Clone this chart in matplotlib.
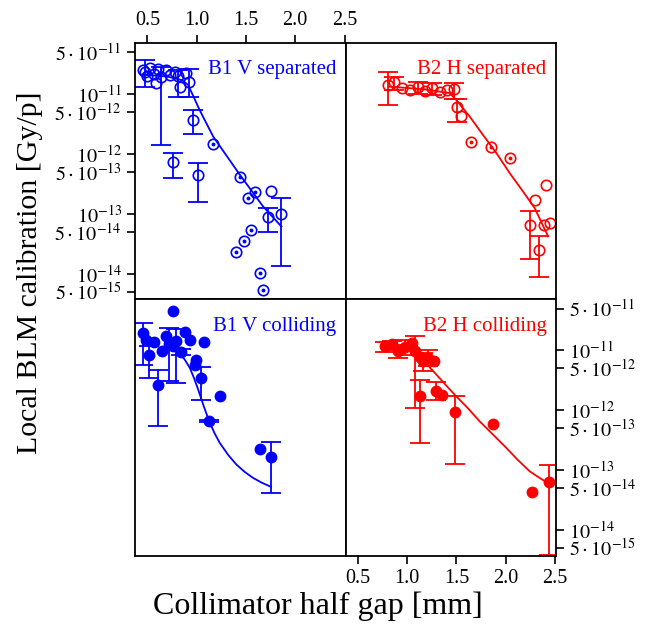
"""
Local BLM calibration vs collimator half gap, four lattice-style panels
(B1 V / B2 H, separated / colliding beams).
"""

import numpy as np
import matplotlib
matplotlib.use("Agg")
import matplotlib.pyplot as plt
from matplotlib.ticker import FixedLocator, NullLocator

plt.rcParams['font.family'] = ['Liberation Serif', 'DejaVu Serif']
plt.rcParams['mathtext.fontset'] = 'stix'

nan = np.nan

# ---- B1 V separated (open circles) ----
b1s_x = [0.476, 0.456, 0.496, 0.527, 0.567, 0.587, 0.608, 0.640, 0.689, 0.729, 0.780,
         0.810, 0.830, 0.891, 0.925, 0.965, 0.757, 1.016, 1.168, 1.438, 1.522, 1.597,
         1.759, 1.724, 1.860, 1.397, 1.478, 1.556, 1.640, 1.674]
b1s_y = [2.3e-11, 2.5e-11, 2.0e-11, 2.7e-11, 2.15e-11, 1.53e-11, 2.6e-11, 1.92e-11, 2.5e-11,
         2.07e-11, 2.33e-11, 2.0e-11, 1.32e-11, 2.24e-11, 1.57e-11, 3.65e-12, 7.2e-13, 4.35e-13,
         1.48e-12, 4.1e-13, 1.85e-13, 2.33e-13, 2.35e-13, 8.8e-14, 9.7e-14, 2.27e-14, 3.5e-14,
         5.35e-14, 1.03e-14, 5.4e-15]
b1s_lo = [1.3e-11, nan, nan, nan, nan, nan, nan, 1.4e-12, nan, nan, nan, 9.0e-12, nan, nan,
          9.0e-12, 2.15e-12, 3.9e-13, 1.58e-13, nan, nan, nan, nan, nan, 4.95e-14, 1.36e-14,
          nan, nan, nan, nan, nan]
b1s_hi = [3.7e-11, nan, nan, nan, nan, nan, nan, 2.8e-11, nan, nan, nan, 2.5e-11, nan, nan,
          2.57e-11, 5.3e-12, 1.05e-12, 7.0e-13, nan, nan, nan, nan, nan, 1.25e-13, 1.8e-13,
          nan, nan, nan, nan, nan]
b1s_dot = [0, 0, 0, 0, 0, 0, 0, 0, 0, 0, 0, 0, 0, 0, 0, 0, 0, 0, 1, 1, 1, 1, 0, 0, 0, 1, 1, 1, 1, 1]
b1s_fit_x = [0.45, 0.70, 0.85, 0.914, 1.033, 1.168, 1.438, 1.674, 1.860]
b1s_fit_y = [2.1e-11, 1.95e-11, 1.7e-11, 1.41e-11, 5.27e-12, 1.94e-12, 4.47e-13, 1.32e-13, 6.1e-14]

# ---- B2 H separated (open circles) ----
b2s_x = [0.804, 0.870, 0.944, 1.025, 1.106, 1.177, 1.248, 1.329, 1.400, 1.474, 1.505, 1.550,
         1.651, 1.847, 2.047, 2.294, 2.412, 2.250, 2.392, 2.446, 2.337]
b2s_y = [1.41e-11, 1.55e-11, 1.26e-11, 1.17e-11, 1.31e-11, 1.12e-11, 1.26e-11, 1.08e-11,
         1.17e-11, 1.2e-11, 6.1e-12, 4.3e-12, 1.6e-12, 1.29e-12, 8.5e-13, 1.71e-13, 2.96e-13,
         6.5e-14, 6.5e-14, 7.0e-14, 2.5e-14]
b2s_lo = [6.5e-12, 1.15e-11, nan, nan, 1.0e-11, nan, 9.5e-12, nan, nan, 8.15e-12, 3.45e-12,
          nan, nan, nan, nan, nan, nan, 1.78e-14, nan, nan, 8.8e-15]
b2s_hi = [2.35e-11, 1.9e-11, nan, nan, 1.6e-11, nan, 1.5e-11, nan, nan, 1.54e-11, 8.15e-12,
          nan, nan, nan, nan, nan, nan, 1.09e-13, nan, nan, 4.2e-14]
b2s_dot = [0, 0, 0, 0, 0, 0, 0, 0, 0, 0, 0, 0, 1, 1, 1, 0, 0, 0, 0, 0, 0]
b2s_fit_x = [0.822, 1.16, 1.431, 1.499, 1.634, 1.769, 1.905, 2.04, 2.175, 2.294, 2.429]
b2s_fit_y = [1.32e-11, 1.2e-11, 1.03e-11, 7.9e-12, 4.2e-12, 2.07e-12, 1.03e-12, 4.77e-13,
             2.35e-13, 1.24e-13, 4.2e-14]

# ---- B1 V colliding (filled circles) ----
b1c_x = [0.763, 0.456, 0.489, 0.564, 0.517, 0.648, 0.719, 0.793, 0.878, 0.929, 1.070, 0.844,
         0.995, 0.979, 1.040, 0.608, 0.692, 0.760, 1.242, 1.124, 1.640, 1.755]
b1c_y = [4.6e-11, 1.94e-11, 1.5e-11, 1.36e-11, 8.5e-12, 9.9e-12, 1.27e-11, 1.41e-11, 2.07e-11,
         1.5e-11, 1.37e-11, 9.4e-12, 7.0e-12, 5.8e-12, 3.4e-12, 2.6e-12, 1.71e-11, 1.17e-11,
         1.71e-12, 6.6e-13, 2.3e-13, 1.67e-13]
b1c_lo = [nan, 5.8e-12, nan, nan, 3.45e-12, nan, 3.05e-12, 2.85e-12, nan, nan, nan, 8.4e-12,
          nan, nan, 1.5e-12, 5.56e-13, nan, nan, nan, 6.4e-13, nan, 4.1e-14]
b1c_hi = [nan, 2.85e-11, nan, nan, 1.2e-11, nan, 2.35e-11, 2.3e-11, nan, nan, nan, 1.05e-11,
          nan, nan, 5.3e-12, 4.77e-12, nan, nan, nan, 6.8e-13, nan, 2.93e-13]
b1c_fit_x = [0.83, 0.88, 0.932, 0.975, 1.016, 1.07, 1.124, 1.18, 1.235, 1.32, 1.404, 1.49,
             1.572, 1.66, 1.755]
b1c_fit_y = [9.0e-12, 7.0e-12, 5.07e-12, 3.4e-12, 2.21e-12, 1.2e-12, 6.8e-13, 4.2e-13,
             2.85e-13, 1.8e-13, 1.24e-13, 9.3e-14, 7.45e-14, 6.2e-14, 5.27e-14]

# ---- B2 H colliding (filled circles) ----
b2c_x = [0.771, 0.842, 0.903, 0.974, 1.045, 1.076, 1.126, 1.160, 1.211, 1.268, 1.126, 1.296,
         1.357, 1.485, 1.870, 2.270, 2.436]
b2c_y = [1.17e-11, 1.26e-11, 9.6e-12, 1.12e-11, 1.31e-11, 9.6e-12, 7.9e-12, 6.56e-12, 7.45e-12,
         6.7e-12, 1.76e-12, 2.13e-12, 1.78e-12, 9.3e-13, 5.85e-13, 4.35e-14, 6.3e-14]
b2c_lo = [9.5e-12, 1.0e-11, 7.5e-12, 8.5e-12, nan, 1.09e-12, nan, 4.5e-12, 5.5e-12, nan,
          2.85e-13, 1.47e-12, nan, 1.28e-13, nan, nan, 3.9e-15]
b2c_hi = [1.4e-11, 1.45e-11, 1.25e-11, 1.5e-11, nan, 1.71e-11, nan, 9.0e-12, 1.0e-11, nan,
          3.25e-12, 2.93e-12, nan, 1.76e-12, nan, nan, 1.21e-13]
b2c_fit_x = [1.177, 1.25, 1.329, 1.41, 1.499, 1.62, 1.735, 1.87, 2.006, 2.12, 2.243, 2.34, 2.429]
b2c_fit_y = [6.56e-12, 4.8e-12, 3.45e-12, 2.45e-12, 1.71e-12, 1.07e-12, 6.56e-13, 3.95e-13,
             2.36e-13, 1.5e-13, 9.6e-14, 7.5e-14, 6.1e-14]

y_ticks = [5e-11, 1e-11, 5e-12, 1e-12, 5e-13, 1e-13, 5e-14, 1e-14, 5e-15]
y_ticklabels = [r'$5\cdot10^{-11}$', r'$10^{-11}$', r'$5\cdot10^{-12}$', r'$10^{-12}$',
                r'$5\cdot10^{-13}$', r'$10^{-13}$', r'$5\cdot10^{-14}$', r'$10^{-14}$',
                r'$5\cdot10^{-15}$']
x_ticks = [0.5, 1.0, 1.5, 2.0, 2.5]
x_ticklabels = ['0.5', '1.0', '1.5', '2.0', '2.5']


def draw_panel(ax, x, y, lo, hi, fit_x, fit_y, color, filled, label, dot=None):
    x = np.array(x)
    y = np.array(y)
    lo = np.array(lo)
    hi = np.array(hi)
    has_err = ~np.isnan(lo)
    # error bars first, markers on top
    ax.errorbar(x[has_err], y[has_err],
                yerr=[y[has_err] - lo[has_err], hi[has_err] - y[has_err]],
                fmt='none', ecolor=color, elinewidth=1.3, capsize=7, capthick=1.3)
    ax.plot(fit_x, fit_y, color=color, lw=1.3)
    if filled:
        ax.plot(x, y, 'o', color=color, ms=7.5, mec=color)
    else:
        ax.plot(x, y, 'o', mfc='none', mec=color, ms=7.5, mew=1.2)
        if dot is not None:
            d = np.array(dot, dtype=bool)
            ax.plot(x[d], y[d], 'o', color=color, ms=1.8)
    ax.text(0.955, 0.895, label, transform=ax.transAxes, ha='right', va='center',
            color=color, fontsize=15)


fig, axes = plt.subplots(2, 2, figsize=(6.5, 6.31), dpi=100, sharex=True, sharey=True)
fig.subplots_adjust(left=0.2077, right=0.8554, top=0.932, bottom=0.1189, wspace=0, hspace=0)
ax_tl, ax_tr = axes[0]
ax_bl, ax_br = axes[1]

draw_panel(ax_tl, b1s_x, b1s_y, b1s_lo, b1s_hi, b1s_fit_x, b1s_fit_y, 'blue', False,
           'B1 V separated', b1s_dot)
draw_panel(ax_tr, b2s_x, b2s_y, b2s_lo, b2s_hi, b2s_fit_x, b2s_fit_y, 'red', False,
           'B2 H separated', b2s_dot)
draw_panel(ax_bl, b1c_x, b1c_y, b1c_lo, b1c_hi, b1c_fit_x, b1c_fit_y, 'blue', True,
           'B1 V colliding')
draw_panel(ax_br, b2c_x, b2c_y, b2c_lo, b2c_hi, b2c_fit_x, b2c_fit_y, 'red', True,
           'B2 H colliding')

for ax in axes.flat:
    ax.set_yscale('log')
    ax.set_xlim(0.375, 2.51)
    ax.set_ylim(3.7e-15, 7.1e-11)
    ax.yaxis.set_minor_locator(NullLocator())
    for s in ax.spines.values():
        s.set_linewidth(1.3)
    ax.tick_params(which='both', direction='out', length=6, width=1.2, labelsize=14.5,
                   top=False, bottom=False, left=False, right=False,
                   labeltop=False, labelbottom=False, labelleft=False, labelright=False)

ax_tl.yaxis.set_major_locator(FixedLocator(y_ticks))
ax_tl.set_yticklabels(y_ticklabels)
ax_tl.set_xticks(x_ticks)
ax_tl.set_xticklabels(x_ticklabels)
ax_tl.tick_params(left=True, labelleft=True, top=True, labeltop=True)
ax_br.tick_params(right=True, labelright=True, bottom=True, labelbottom=True)

fig.text(0.489, 0.04, 'Collimator half gap [mm]', ha='center', va='center', fontsize=23)
fig.text(0.046, 0.567, 'Local BLM calibration [Gy/p]', ha='center', va='center',
         rotation=90, fontsize=21.5)

fig.savefig('out.png', dpi=100)
